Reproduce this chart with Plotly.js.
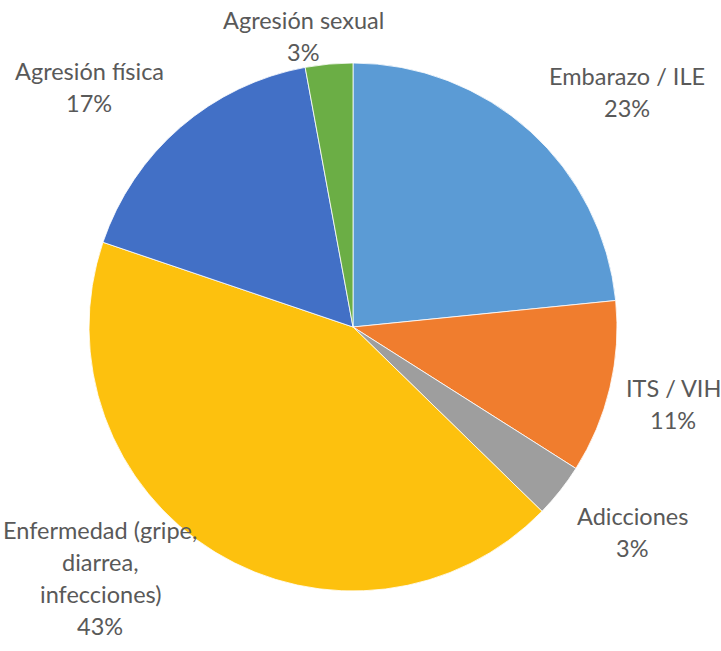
<!DOCTYPE html>
<html>
<head>
<meta charset="utf-8">
<script src="https://cdn.plot.ly/plotly-3.0.1.min.js"></script>
<style>html,body{margin:0;padding:0;background:#fff;}#chart{width:721px;height:651px;}</style>
</head>
<body>
<div id="chart"></div>
<script>
const categories = ["Embarazo / ILE", "ITS / VIH", "Adicciones", "Enfermedad (gripe,\ndiarrea,\ninfecciones)", "Agresión física", "Agresión sexual"];
const values = [23.4, 10.6, 3.3, 42.9, 16.9, 2.9];
const colors = ["#5B9BD5", "#F07D2E", "#9E9E9E", "#FDC10E", "#4270C6", "#6BAE45"];

// label block centres (pixels) and line spacing
const labelPos = [[627, 92], [673, 404], [632, 532], [100, 578], [89, 87], [303, 36]];
const lineGap = 32;

const W = 721, H = 651;
const total = values.reduce((a, b) => a + b, 0);
const annotations = [];
categories.forEach((c, i) => {
  const lines = c.split("\n").concat([Math.round(values[i] / total * 100) + "%"]);
  const n = lines.length;
  lines.forEach((ln, k) => {
    const py = labelPos[i][1] + (k - (n - 1) / 2) * lineGap;
    annotations.push({
      xref: "paper", yref: "paper",
      x: labelPos[i][0] / W, y: 1 - py / H,
      xanchor: "center", yanchor: "middle",
      text: ln, showarrow: false,
      font: {family: "Lato, sans-serif", size: 23.5, color: "#595959"}
    });
  });
});

const cx = 353, cy = 327, r = 264;
Plotly.newPlot("chart", [{
  type: "pie",
  labels: categories.map(c => c.replace(/\n/g, " ")),
  values: values,
  sort: false,
  direction: "clockwise",
  rotation: 0,
  textinfo: "none",
  hoverinfo: "label+percent",
  marker: {colors: colors, line: {color: "#ffffff", width: 0.8}},
  domain: {x: [(cx - r) / W, (cx + r) / W], y: [1 - (cy + r) / H, 1 - (cy - r) / H]}
}], {
  width: W, height: H,
  margin: {l: 0, r: 0, t: 0, b: 0},
  showlegend: false,
  paper_bgcolor: "#ffffff",
  annotations: annotations
}, {displayModeBar: false, staticPlot: true});
</script>
</body>
</html>
